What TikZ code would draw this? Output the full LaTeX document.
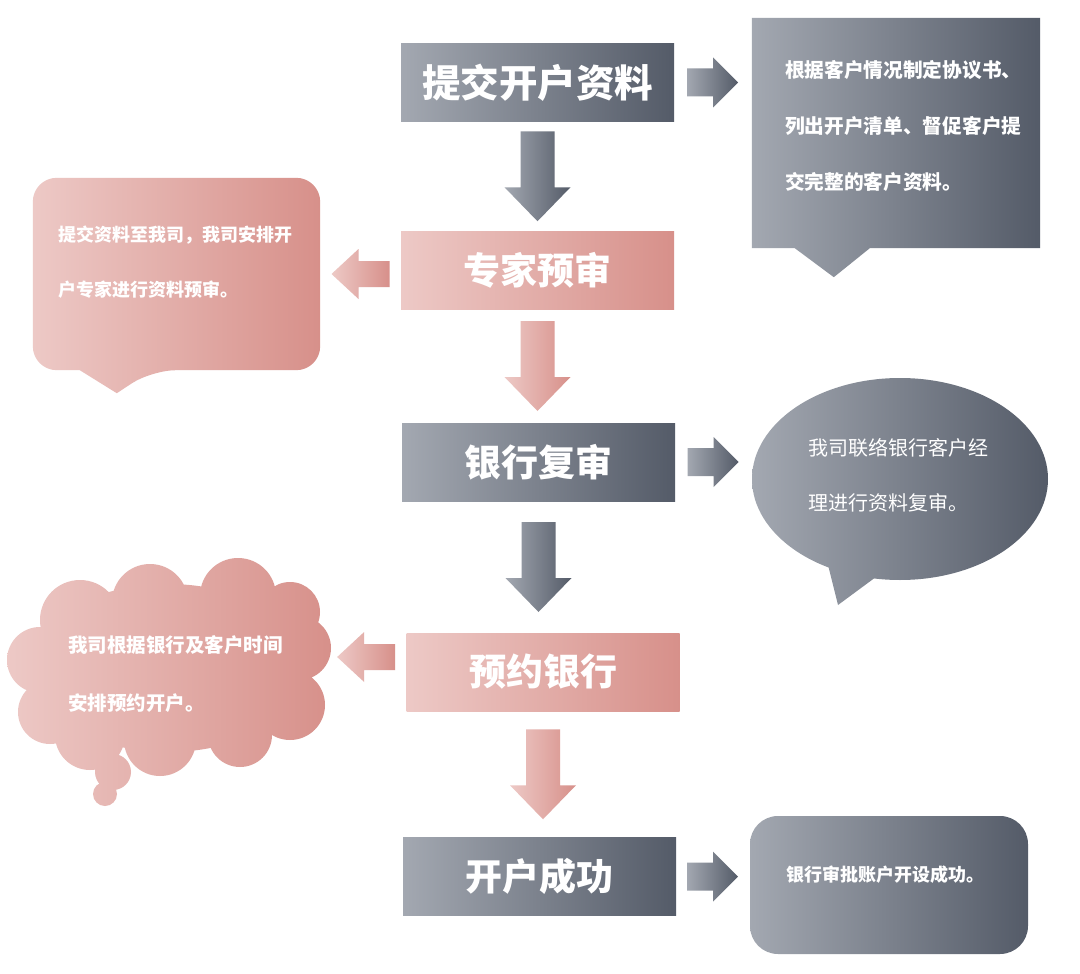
\documentclass[tikz,border=0pt]{standalone}
\usepackage{fontspec}
\setmainfont{Noto Sans CJK SC}
\usepackage{tikz}
\usetikzlibrary{calc, shapes.geometric}
\definecolor{greyL}{RGB}{163, 168, 177}
\definecolor{greyR}{RGB}{84, 91, 104}
\definecolor{pinkL}{RGB}{237, 201, 198}
\definecolor{pinkR}{RGB}{215, 144, 138}

% block arrows between two named nodes
\newcommand{\flowdown}[3]{%
  \path[#3] let \p1=(#1.south), \p2=(#2.north), \p3=($(#1.south)!0.5!(#2.north)$) in
    (\x1-17pt,\y3+45pt) -- (\x1+17pt,\y3+45pt) -- (\x1+17pt,\y3-11pt)
    -- (\x1+33pt,\y3-11pt) -- (\x1,\y3-45pt) -- (\x1-33pt,\y3-11pt)
    -- (\x1-17pt,\y3-11pt) -- cycle;}
\newcommand{\flowright}[3]{%
  \path[#3] let \p1=(#1.east), \p2=(#2.west), \p3=($(#1.east)!0.5!(#2.west)$) in
    (\x3-26pt,\y1+14pt) -- (\x3,\y1+14pt) -- (\x3,\y1+25pt) -- (\x3+25pt,\y1)
    -- (\x3,\y1-25pt) -- (\x3,\y1-14pt) -- (\x3-26pt,\y1-14pt) -- cycle;}
\newcommand{\flowleft}[3]{%
  \path[#3] let \p1=(#1.west), \p2=(#2.east), \p3=($(#1.west)!0.5!(#2.east)$) in
    (\x3+29pt,\y2+13pt) -- (\x3-2pt,\y2+13pt) -- (\x3-2pt,\y2+25pt) -- (\x3-29pt,\y2)
    -- (\x3-2pt,\y2-25pt) -- (\x3-2pt,\y2-13pt) -- (\x3+29pt,\y2-13pt) -- cycle;}

\begin{document}
\begin{tikzpicture}[x=1pt, y=-1pt,
    greyshade/.style={left color=greyL, right color=greyR},
    pinkshade/.style={left color=pinkL, right color=pinkR},
    stepbox/.style={rectangle, inner sep=0, minimum width=273, minimum height=78,
      text=white, font=\fontsize{37}{44}\selectfont\bfseries},
    notebox/.style={rectangle, inner sep=0},
    notetext/.style={text=white, align=left, inner sep=0, anchor=west,
      font=\fontsize{19.7}{56}\selectfont\bfseries}]
  \fill[white] (0,0) rectangle (1080,974);
  \useasboundingbox (0,0) rectangle (1080,974);

  % main steps
  \node[stepbox, greyshade, font=\fontsize{38.5}{44}\selectfont\bfseries] (s1) at (537.5,82.5) {提交开户资料};
  \node[stepbox, pinkshade] (s2) at (537.5,270) {专家预审};
  \node[stepbox, greyshade] (s3) at (538.5,462) {银行复审};
  \node[stepbox, pinkshade] (s4) at (543,672) {预约银行};
  \node[stepbox, greyshade] (s5) at (539.5,876.5) {开户成功};

  % note 1: box with pointer
  \node[notebox, minimum width=288, minimum height=230] (c1) at (896,133) {};
  \path[greyshade] (c1.north west) -- (c1.north east) -- (c1.south east)
    -- ($(c1.south west)+(118,0)$) -- ($(c1.south west)+(82,29)$)
    -- ($(c1.south west)+(43,0)$) -- (c1.south west) -- cycle;
  \node[notetext] (t1) at ($(c1.west)+(33,-7)$)
    {根据客户情况制定协议书、\\列出开户清单、督促客户提\\交完整的客户资料。};

  % note 2: rounded box with pointer
  \node[notebox, minimum width=287, minimum height=192] (c2) at (176.5,274) {};
  \path[pinkshade, rounded corners=24pt] (c2.west) |- (c2.north east)
    |- ($(c2.south west)+(119,0)$) [sharp corners] -- ($(c2.south west)+(84,23)$)
    -- ($(c2.south west)+(47,0)$) [rounded corners=24pt] -| (c2.west) -- cycle;
  \node[notetext, font=\fontsize{18}{55}\selectfont\bfseries] (t2) at ($(c2.west)+(25,-11.5)$)
    {提交资料至我司，我司安排开\\户专家进行资料预审。};

  % note 3: speech ellipse
  \node[ellipse, inner sep=0, minimum width=296, minimum height=202] (c3) at (900,479) {};
  \path[greyshade] (c3.center) ellipse [x radius=148, y radius=101]
    ($(c3.center)+(-20,95)$) -- ($(c3.center)+(-62,126)$) -- ($(c3.center)+(-73,82)$) -- cycle;
  \node[notetext, font=\fontsize{20}{55}\selectfont] (t3) at (808,475.5)
    {我司联络银行客户经\\理进行资料复审。};

  % note 4: cloud
  \path[pinkshade] (168,668) ellipse [x radius=138, y radius=84]
    \foreach \cx/\cy/\r in {80/620/40, 150/602/38, 238/596/38, 290/612/30,
      299/648/32, 290/705/35, 240/735/32, 160/740/36, 90/735/35, 50/712/32,
      40/660/33, 113/772/18, 105/794/12} {(\cx,\cy) circle (\r)};
  \coordinate (c4) at (326,657);
  \node[notetext, font=\fontsize{19.5}{58}\selectfont\bfseries] (t4) at (68,674)
    {我司根据银行及客户时间\\安排预约开户。};

  % note 5: rounded box
  \node[notebox, greyshade, rounded corners=28pt, minimum width=278, minimum height=138] (c5) at (889,885) {};
  \node[text=white, inner sep=0, font=\fontsize{18}{20}\selectfont\bfseries] (t5)
    at ($(c5.center)+(-4,-10)$) {银行审批账户开设成功。};

  % arrows
  \flowdown{s1}{s2}{greyshade}
  \flowdown{s2}{s3}{pinkshade}
  \flowdown{s3}{s4}{greyshade}
  \flowdown{s4}{s5}{pinkshade}
  \flowright{s1}{c1}{greyshade}
  \flowright{s3}{c3}{greyshade}
  \flowright{s5}{c5}{greyshade}
  \flowleft{s2}{c2}{pinkshade}
  \flowleft{s4}{c4}{pinkshade}
\end{tikzpicture}
\end{document}
